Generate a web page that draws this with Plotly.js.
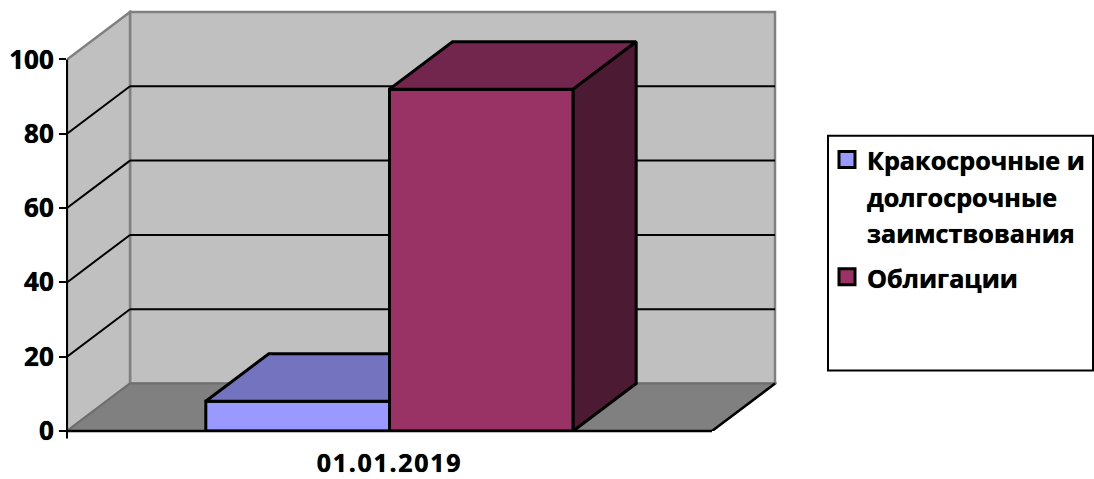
<!DOCTYPE html>
<html>
<head>
<meta charset="utf-8">
<script src="https://cdn.plot.ly/plotly-3.0.1.min.js"></script>
<style>html,body{margin:0;padding:0;background:#fff;overflow:hidden}</style>
</head>
<body>
<div id="chart" style="width:1094px;height:479px"></div>
<script>
// ----- data -----
const categories = ['01.01.2019'];
const seriesNames = ['Кракосрочные и<br>долгосрочные<br>заимствования', 'Облигации'];
const shortTermValues = [8];
const bondValues = [92];
const yTickValues = [0, 20, 40, 60, 80, 100];

// ----- style -----
const FONT = '"Open Sans", "Noto Sans", sans-serif';
const fronts = ['#9999FF', '#993366'];
const tops = ['#7373BF', '#73264D'];
const sideColor = '#4D1A33';
const WALL = '#C0C0C0', FLOOR = '#808080', EDGE = '#808080', INK = '#000000';
const HEAVY = '0 0 0.7px #000';
const OUTLINE = 3;

// ----- geometry, in axis units -----
const L = 67, R = 777, T = 10, B = 431.5;
const pxPerCat = 645, pxPerVal = 3.72;
const xMin = -0.5, xMax = xMin + (R - L) / pxPerCat;
const yMin = 0, yMax = (B - T) / pxPerVal;
const dx = 63 / pxPerCat, dy = 47.5 / pxPerVal;   // depth of the box
const xFront = xMin + 1;                          // right end of the front edge
const yFull = yTickValues[yTickValues.length - 1];
const barWidth = 0.2848;
const xs = categories.map((_, i) => i);

const poly = pts => 'M' + pts.map(p => p[0] + ',' + p[1]).join('L') + 'Z';
const seg = (x0, y0, x1, y1, color, layer, width) => ({
  type: 'line', xref: 'x', yref: 'y', x0, y0, x1, y1, layer: layer || 'below',
  line: {color, width: width || 2}
});

const shapes = [
  // back wall
  {type: 'rect', xref: 'x', yref: 'y', layer: 'below', x0: xMin + dx, x1: xFront + dx, y0: dy, y1: yFull + dy,
   fillcolor: WALL, line: {color: EDGE, width: 2.5}},
  // side wall
  {type: 'path', xref: 'x', yref: 'y', layer: 'below',
   path: poly([[xMin, 0], [xMin + dx, dy], [xMin + dx, yFull + dy], [xMin, yFull]]),
   fillcolor: WALL, line: {color: EDGE, width: 2.5}},
  // floor
  {type: 'path', xref: 'x', yref: 'y', layer: 'below',
   path: poly([[xMin, 0], [xMin + dx, dy], [xFront + dx, dy], [xFront, 0]]),
   fillcolor: FLOOR, line: {color: '#6E6E6E', width: 2}},
  seg(xFront, 0, xFront + dx, dy, INK, 'below', 2.5),
];
// gridlines on both walls
yTickValues.filter(v => v > 0 && v < yFull).forEach(v => {
  shapes.push(seg(xMin, v, xMin + dx, v + dy, INK));
  shapes.push(seg(xMin + dx, v + dy, xFront + dx, v + dy, INK));
});
// axis lines over everything
shapes.push({type: 'line', xref: 'paper', yref: 'y', x0: 0, x1: 0, y0: 0, y1: yFull, layer: 'above', line: {color: INK, width: 2}});
shapes.push({type: 'line', xref: 'paper', yref: 'paper', x0: 0, x1: 0, y0: 0, y1: -7.5 / (B - T), layer: 'above', line: {color: INK, width: 2}});
shapes.push({type: 'line', xref: 'x', yref: 'paper', x0: xMin, x1: xFront, y0: 0, y1: 0, layer: 'above', line: {color: INK, width: 2.5}});
// legend frame
const px = x => (x - L) / (R - L), py = y => (B - y) / (B - T);
shapes.push({type: 'rect', xref: 'paper', yref: 'paper', layer: 'below',
  x0: px(828), x1: px(1093), y0: py(371), y1: py(136), fillcolor: '#FFFFFF', line: {color: INK, width: 2}});

// ----- bars -----
const left0 = xs[0] - barWidth, mid = xs[0], right1 = xs[0] + barWidth;
const barTrace = (name, vals, color) => ({
  type: 'bar', name, x: xs, y: vals, showlegend: false,
  marker: {color, line: {color: INK, width: OUTLINE}}
});
const face = (pts, color) => ({
  type: 'scatter', mode: 'lines', x: pts.map(p => p[0]).concat(pts[0][0]), y: pts.map(p => p[1]).concat(pts[0][1]),
  fill: 'toself', fillcolor: color, line: {color: INK, width: OUTLINE}, showlegend: false, hoverinfo: 'skip', cliponaxis: false
});
const legendKey = (name, color, group) => ({
  type: 'scatter', mode: 'markers', name, x: [null], y: [null], legendgroup: group,
  marker: {symbol: 'square', size: 16, color, line: {color: INK, width: 3}}, hoverinfo: 'skip'
});
const v0 = shortTermValues[0], v1 = bondValues[0];
const sized = s => '<span style="font-size:25.2px">' + s.split('<br>').join('</span><br><span style="font-size:25.2px">') + '</span>';
const spaced = s => '<span style="letter-spacing:1.7px">' + s + '</span>';

const traces = [
  barTrace('Кракосрочные и долгосрочные заимствования', shortTermValues, fronts[0]),
  barTrace('Облигации', bondValues, fronts[1]),
  face([[left0, v0], [mid, v0], [mid, v0 + dy], [left0 + dx, v0 + dy]], tops[0]),
  face([[mid, v1], [right1, v1], [right1 + dx, v1 + dy], [mid + dx, v1 + dy]], tops[1]),
  face([[right1, 0], [right1 + dx, dy], [right1 + dx, v1 + dy], [right1, v1]], sideColor),
  legendKey(sized(seriesNames[0]), fronts[0], 'a'),
  legendKey(sized(seriesNames[1]), fronts[1], 'b'),
];

const layout = {
  width: 1094, height: 479, autosize: false,
  paper_bgcolor: '#FFFFFF', plot_bgcolor: 'rgba(0,0,0,0)',
  margin: {l: L, r: 1094 - R, t: T, b: 479 - B, pad: 0, autoexpand: false},
  barmode: 'group', bargap: 1 - 2 * barWidth, bargroupgap: 0,
  hovermode: false, dragmode: false,
  font: {family: FONT, color: INK, size: 25, weight: 700},
  xaxis: {
    type: 'linear', range: [xMin, xMax], tickmode: 'array', tickvals: xs, ticktext: categories.map(spaced),
    showgrid: false, zeroline: false, showline: false, ticks: '', ticklabelstandoff: 15,
    tickfont: {family: FONT, size: 25, weight: 700, color: INK, shadow: HEAVY}, fixedrange: true
  },
  yaxis: {
    range: [yMin, yMax], tickmode: 'array', tickvals: yTickValues,
    showgrid: false, zeroline: false, showline: false, ticks: 'outside', ticklen: 7, tickwidth: 2, tickcolor: INK,
    tickfont: {family: FONT, size: 26, weight: 700, color: INK, shadow: HEAVY}, fixedrange: true
  },
  legend: {
    x: px(827), xanchor: 'left', y: py(135), yanchor: 'top', valign: 'top',
    entrywidth: 220, entrywidthmode: 'pixels',
    bgcolor: 'rgba(0,0,0,0)', borderwidth: 0, traceorder: 'grouped', tracegroupgap: 5,
    font: {family: FONT, size: 28, weight: 700, color: INK, shadow: HEAVY},
    itemclick: false, itemdoubleclick: false
  },
  shapes
};
Plotly.newPlot('chart', traces, layout, {displayModeBar: false, staticPlot: true});
</script>
</body>
</html>
